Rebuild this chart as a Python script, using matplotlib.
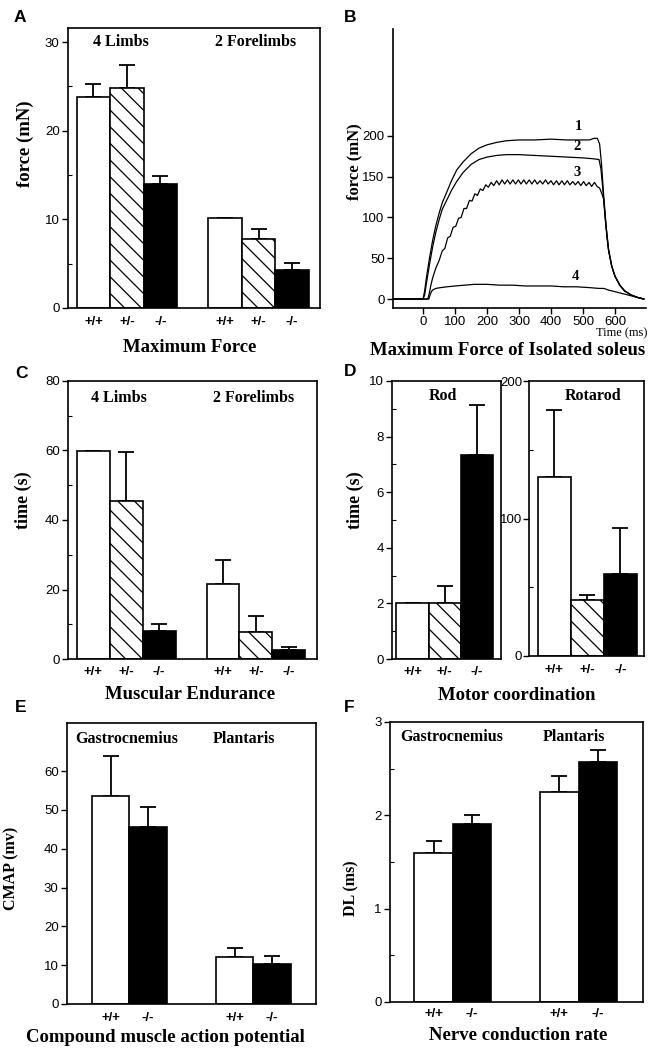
import matplotlib
matplotlib.use('Agg')
import matplotlib.pyplot as plt
from matplotlib.ticker import MultipleLocator

# ---------------------------------------------------------------
# Data
# ---------------------------------------------------------------
geno3 = ['+/+', '+/-', '-/-']
geno2 = ['+/+', '-/-']

# A - maximum force (mN)
force_4limbs = [23.8, 24.8, 14.0]
force_4limbs_err = [1.45, 2.6, 0.95]
force_2fore = [10.15, 7.8, 4.3]
force_2fore_err = [0.0, 1.1, 0.8]

# B - isolated soleus traces (time ms, force mN)
t1 = [-95, 0, 5, 10, 20, 30, 40, 50, 60, 75, 90, 105, 125, 150, 175, 200,
      230, 260, 300, 350, 400, 450, 500, 520, 535, 545, 552, 558, 565, 572,
      580, 590, 600, 615, 630, 650, 670, 690]
f1 = [0, 0, 10, 25, 50, 72, 90, 105, 118, 132, 146, 158, 168, 178, 185, 189,
      192, 194, 195, 195, 196, 195, 195, 195, 197, 197, 190, 165, 125, 90,
      60, 40, 28, 17, 10, 5, 2, 0]
t2 = [-95, 0, 5, 10, 20, 30, 40, 50, 60, 75, 90, 105, 125, 150, 175, 200,
      230, 260, 300, 350, 400, 450, 500, 530, 550, 556, 562, 568, 575,
      580, 590, 600, 615, 630, 650, 670, 690]
f2 = [0, 0, 5, 18, 42, 64, 82, 97, 110, 122, 134, 144, 155, 165, 171, 174,
      176, 177, 177, 176, 175, 174, 173, 172, 171, 160, 135, 105, 75,
      60, 40, 28, 17, 10, 5, 2, 0]
t3 = [-95, 15, 20, 25, 30, 40, 50, 60, 68, 77, 85, 94, 102, 111, 119, 128,
      136, 145, 153, 162, 170, 179, 187, 196, 204, 213, 221, 230, 238, 247,
      255, 264, 272, 281, 289, 298, 306, 315, 323, 332, 340, 349, 357, 366,
      374, 383, 391, 400, 408, 417, 425, 434, 442, 451, 459, 468, 476, 485,
      493, 502, 510, 519, 527, 536, 544, 552, 560, 565, 572,
      580, 590, 600, 615, 630, 650, 670, 690]
f3 = [0, 0, 8, 18, 26, 38, 47, 59, 62, 75, 77, 88, 89, 99, 100, 111,
      111, 121, 120, 129, 127, 135, 133, 140, 137, 143, 139, 145, 140, 146,
      141, 146, 141, 146, 141, 146, 141, 146, 141, 146, 141, 146, 141, 145,
      141, 146, 141, 145, 140, 145, 140, 145, 140, 145, 140, 144, 140, 144,
      139, 144, 139, 143, 138, 143, 138, 136, 128, 122, 90,
      60, 40, 28, 17, 10, 5, 2, 0]
t4 = [-95, 18, 22, 26, 30, 40, 55, 75, 100, 130, 160, 200, 240, 280, 320,
      360, 400, 440, 480, 520, 550, 565, 580, 600, 620, 640, 660, 680, 690]
f4 = [0, 0, 5, 9, 11, 13, 14, 15, 16, 17, 18, 18, 17, 17, 16,
      16, 16, 15, 15, 14, 13, 13, 11, 9, 7, 5, 3, 1, 0]
trace_names = ['1', '2', '3', '4']

# C - muscular endurance (s)
endur_4limbs = [59.8, 45.5, 8.2]
endur_4limbs_err = [0.0, 14.0, 2.0]
endur_2fore = [21.6, 7.7, 2.5]
endur_2fore_err = [6.9, 4.8, 1.0]

# D - motor coordination (s)
rod_time = [2.0, 2.0, 7.33]
rod_err = [0.0, 0.62, 1.8]
rotarod_time = [130, 40.7, 60]
rotarod_err = [49, 3.6, 33]

# E - CMAP (mV)
cmap_gastro = [53.6, 45.7]
cmap_gastro_err = [10.4, 5.1]
cmap_plant = [12.2, 10.2]
cmap_plant_err = [2.3, 2.2]

# F - distal latency (ms)
dl_gastro = [1.60, 1.91]
dl_gastro_err = [0.12, 0.09]
dl_plant = [2.25, 2.57]
dl_plant_err = [0.17, 0.13]

# ---------------------------------------------------------------
SERIF = 'Liberation Serif'
SANS = 'Liberation Sans'
W, H = 658, 1048

plt.rcParams['hatch.linewidth'] = 0.9
plt.rcParams['font.family'] = SANS

fig = plt.figure(figsize=(W / 100, H / 100), dpi=100)


def add_ax(l, t, r, b):
    return fig.add_axes([l / W, 1 - b / H, (r - l) / W, (b - t) / H])


def ftext(x, y, s, **kw):
    fig.text(x / W, 1 - y / H, s, **kw)


def style_axes(ax, box=True):
    for side in ['left', 'bottom', 'top', 'right']:
        ax.spines[side].set_linewidth(1.2)
        if not box and side in ('top', 'right'):
            ax.spines[side].set_visible(False)
    ax.tick_params(axis='y', which='major', direction='out', length=4,
                   width=1.0, labelsize=9.5, pad=2)
    ax.tick_params(axis='y', which='minor', direction='in', length=3,
                   width=0.8)


def draw_bars(ax, xs, vals, errs, genos):
    for x, v, e, g in zip(xs, vals, errs, genos):
        if g == '+/+':
            fc, hatch = 'white', None
        elif g == '+/-':
            fc, hatch = 'white', '\\\\'
        else:
            fc, hatch = 'black', None
        ax.bar(x, v, 1.0, color=fc, edgecolor='black', linewidth=1.2,
               hatch=hatch, zorder=2)
        ax.errorbar(x, v, yerr=[[0], [e]], color='black', lw=1.3,
                    capsize=6, capthick=1.3, zorder=1)


def bar_labels(ax, xs, labels, pad):
    ax.set_xticks(xs)
    ax.set_xticklabels(labels, fontsize=9.5, fontweight='bold', family=SANS)
    ax.tick_params(axis='x', length=0, pad=pad)


letter_kw = dict(fontsize=12.5, fontweight='bold', family=SANS,
                 ha='center', va='center')
group_kw = dict(fontsize=11.5, fontweight='bold', family=SERIF,
                ha='center', va='center')
ylab_kw = dict(fontweight='bold', family=SERIF,
               ha='center', va='center', rotation=90)
title_kw = dict(fontsize=13.5, fontweight='bold', family=SERIF,
                ha='center', va='baseline')

# ---------------- A ----------------
ax = add_ax(68, 28, 320, 308)
xa1 = [0.76 + i for i in range(3)]
xa2 = [4.69 + i for i in range(3)]
draw_bars(ax, xa1, force_4limbs, force_4limbs_err, geno3)
draw_bars(ax, xa2, force_2fore, force_2fore_err, geno3)
ax.set_xlim(0, 7.52)
ax.set_ylim(0, 31.6)
ax.set_yticks([0, 10, 20, 30])
ax.yaxis.set_minor_locator(MultipleLocator(5))
style_axes(ax)
bar_labels(ax, xa1 + xa2, geno3 + geno3, 6)
ftext(121, 42, '4 Limbs', **group_kw)
ftext(256, 42, '2 Forelimbs', **group_kw)
ftext(25, 144, 'force (mN)', fontsize=13.5, **ylab_kw)
ftext(20, 18, 'A', **letter_kw)
ftext(190, 352, 'Maximum Force', **title_kw)

# ---------------- B ----------------
ax = add_ax(393, 29, 646, 308)
for tt, ff in zip([t1, t2, t3, t4], [f1, f2, f3, f4]):
    ax.plot(tt, ff, color='black', lw=0.9)
ax.set_xlim(-94, 697)
ax.set_ylim(-11, 331)
ax.set_xticks(range(0, 700, 100))
ax.set_yticks(range(0, 250, 50))
style_axes(ax, box=False)
ax.tick_params(axis='x', direction='out', length=4, width=1.0,
               labelsize=9.5, pad=2)
for name, tx, fy in zip(trace_names, [485, 482, 482, 476],
                        [211, 187, 155, 27]):
    ax.text(tx, fy, name, fontsize=10.5, fontweight='bold', family=SERIF,
            ha='center', va='center')
ftext(622, 333, 'Time (ms)', fontsize=9, family=SERIF, ha='center',
      va='center')
ftext(354, 162, 'force (mN)', fontsize=12, **ylab_kw)
ftext(350, 18, 'B', **letter_kw)
ftext(508, 355, 'Maximum Force of Isolated soleus', **title_kw)

# ---------------- C ----------------
ax = add_ax(68, 381, 317, 659)
xc1 = [0.76 + i for i in range(3)]
xc2 = [4.7 + i for i in range(3)]
draw_bars(ax, xc1, endur_4limbs, endur_4limbs_err, geno3)
draw_bars(ax, xc2, endur_2fore, endur_2fore_err, geno3)
ax.set_xlim(0, 7.55)
ax.set_ylim(0, 80)
ax.set_yticks(range(0, 90, 20))
ax.yaxis.set_minor_locator(MultipleLocator(10))
style_axes(ax)
bar_labels(ax, xc1 + xc2, geno3 + geno3, 5)
ftext(119, 398, '4 Limbs', **group_kw)
ftext(254, 398, '2 Forelimbs', **group_kw)
ftext(23, 500, 'time (s)', fontsize=13, **ylab_kw)
ftext(22, 373, 'C', **letter_kw)
ftext(190, 699, 'Muscular Endurance', **title_kw)

# ---------------- D ----------------
ax = add_ax(392, 381, 501, 659)
xd = [0.64 + i for i in range(3)]
draw_bars(ax, xd, rod_time, rod_err, geno3)
ax.set_xlim(0, 3.4)
ax.set_ylim(0, 10)
ax.set_yticks(range(0, 12, 2))
ax.yaxis.set_minor_locator(MultipleLocator(1))
style_axes(ax)
bar_labels(ax, xd, geno3, 5)
ftext(443, 396, 'Rod', **group_kw)

ax = add_ax(529, 381, 644, 656)
xr = [0.76 + i for i in range(3)]
draw_bars(ax, xr, rotarod_time, rotarod_err, geno3)
ax.set_xlim(0, 3.48)
ax.set_ylim(0, 200)
ax.set_yticks([0, 100, 200])
ax.yaxis.set_minor_locator(MultipleLocator(50))
style_axes(ax)
ax.tick_params(axis='y', which='major', pad=1)
bar_labels(ax, xr, geno3, 6)
ftext(593, 396, 'Rotarod', **group_kw)
ftext(355, 500, 'time (s)', fontsize=13, **ylab_kw)
ftext(350, 372, 'D', **letter_kw)
ftext(517, 700, 'Motor coordination', **title_kw)

# ---------------- E ----------------
ax = add_ax(67, 723, 316, 1004)
xe1 = [1.16 + i for i in range(2)]
xe2 = [4.47 + i for i in range(2)]
draw_bars(ax, xe1, cmap_gastro, cmap_gastro_err, geno2)
draw_bars(ax, xe2, cmap_plant, cmap_plant_err, geno2)
ax.set_xlim(0, 6.64)
ax.set_ylim(0, 72.4)
ax.set_yticks(range(0, 70, 10))
style_axes(ax)
bar_labels(ax, xe1 + xe2, geno2 + geno2, 6)
ftext(127, 739, 'Gastrocnemius', **group_kw)
ftext(244, 739, 'Plantaris', **group_kw)
ftext(11, 868, 'CMAP (mv)', fontsize=11.5, **ylab_kw)
ftext(21, 708, 'E', **letter_kw)
ftext(165, 1042, 'Compound muscle action potential', **title_kw)

# ---------------- F ----------------
ax = add_ax(390, 722, 643, 1002)
xf1 = [1.13 + i for i in range(2)]
xf2 = [4.4 + i for i in range(2)]
draw_bars(ax, xf1, dl_gastro, dl_gastro_err, geno2)
draw_bars(ax, xf2, dl_plant, dl_plant_err, geno2)
ax.set_xlim(0, 6.57)
ax.set_ylim(0, 3)
ax.set_yticks([0, 1, 2, 3])
ax.yaxis.set_minor_locator(MultipleLocator(0.5))
style_axes(ax)
bar_labels(ax, xf1 + xf2, geno2 + geno2, 4)
ftext(452, 737, 'Gastrocnemius', **group_kw)
ftext(574, 737, 'Plantaris', **group_kw)
ftext(351, 888, 'DL (ms)', fontsize=11.5, **ylab_kw)
ftext(349, 707, 'F', **letter_kw)
ftext(518, 1040, 'Nerve conduction rate', **title_kw)

fig.savefig('out.png', dpi=100)
